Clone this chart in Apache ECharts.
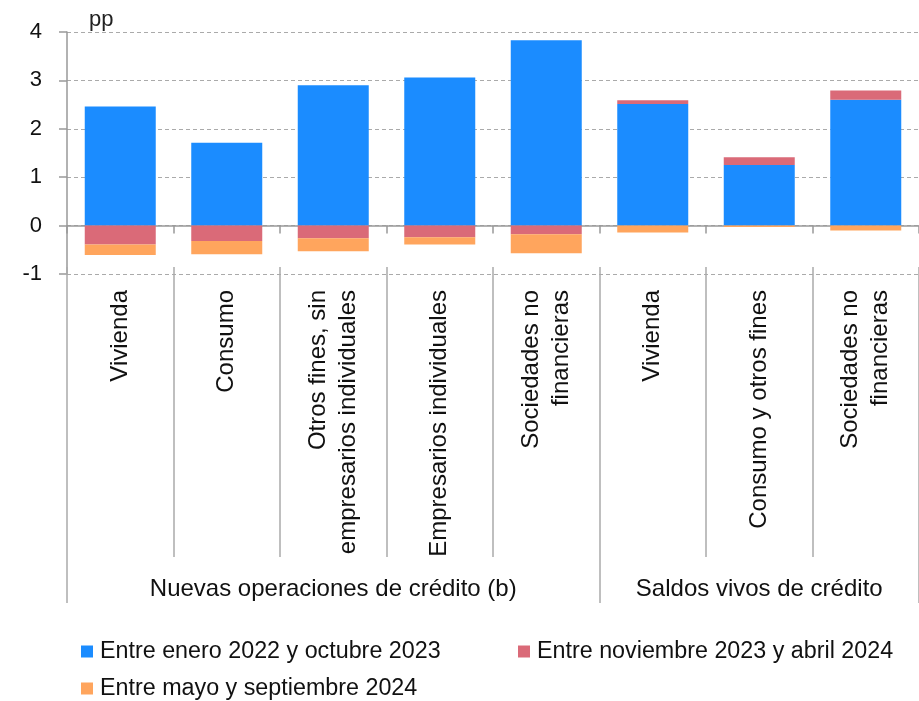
<!DOCTYPE html>
<html>
<head>
<meta charset="utf-8">
<script src="https://cdn.jsdelivr.net/npm/echarts@6/dist/echarts.min.js"></script>
<style>html,body{margin:0;padding:0;background:#fff}#c{width:919px;height:701px}</style>
</head>
<body>
<div id="c"></div>
<script>
var categories = ['Vivienda', 'Consumo', 'Otros fines, sin\nempresarios individuales', 'Empresarios individuales', 'Sociedades no\nfinancieras', 'Vivienda', 'Consumo y otros fines', 'Sociedades no\nfinancieras'];
var groupLabels = ['Nuevas operaciones de crédito (b)', 'Saldos vivos de crédito'];
var groupSizes = [5, 3];
var seriesNames = ['Entre enero 2022 y octubre 2023', 'Entre noviembre 2023 y abril 2024', 'Entre mayo y septiembre 2024'];
var enero22Oct23 = [2.46, 1.71, 2.90, 3.06, 3.83, 2.51, 1.25, 2.60];
var nov23Abr24 = [-0.39, -0.32, -0.26, -0.24, -0.18, 0.08, 0.16, 0.19];
var may24Sep24 = [-0.22, -0.27, -0.27, -0.15, -0.39, -0.14, -0.03, -0.10];
var yTicks = [-1, 0, 1, 2, 3, 4];

var colors = ['#1B8CFF', '#DA6A78', '#FFA55D'];
var FONT = "'Liberation Sans', Arial, sans-serif";

// group axis data: label at the centre category of each group
var groupAxisData = [];
var groupBoundaries = {};
var start = 0;
groupSizes.forEach(function (n, gi) {
  groupBoundaries[start] = true;
  for (var i = 0; i < n; i++) {
    groupAxisData.push(i === Math.floor(n / 2) ? groupLabels[gi] : '');
  }
  start += n;
});

var chart = echarts.init(document.getElementById('c'), null, {renderer: 'canvas'});
var allData = [enero22Oct23, nov23Abr24, may24Sep24];

chart.setOption({
  animation: false,
  textStyle: {fontFamily: FONT},
  title: {
    text: 'pp', left: 84, top: 4,
    textStyle: {fontFamily: FONT, fontSize: 22, fontWeight: 'normal', color: '#222'}
  },
  legend: [
    {data: [seriesNames[0]], left: 81, top: 640},
    {data: [seriesNames[1]], left: 518, top: 640},
    {data: [seriesNames[2]], left: 81, top: 677}
  ].map(function (l) {
    return Object.assign({
      icon: 'rect', itemWidth: 12, itemHeight: 12, padding: 0,
      textStyle: {fontFamily: FONT, fontSize: 23.3, color: '#111', padding: [0, 0, 0, 2]}
    }, l);
  }),
  grid: {left: 67, top: 32, right: 0, height: 242, containLabel: false},
  xAxis: [
    {
      type: 'category', data: categories, position: 'bottom',
      axisLine: {onZero: true, lineStyle: {color: '#999', width: 1.5}},
      axisTick: {show: true, interval: 0, length: 8, lineStyle: {color: '#999', width: 1.5}},
      axisLabel: {
        interval: 0, rotate: 90, margin: 16, fontSize: 24, lineHeight: 30,
        color: '#111', fontFamily: FONT
      },
      splitLine: {show: false}
    },
    {
      type: 'category', data: categories, position: 'bottom', offset: -7,
      axisLine: {show: false, onZero: false},
      axisTick: {show: true, interval: 0, length: 290, lineStyle: {color: '#aaa', width: 1.5}},
      axisLabel: {show: false},
      splitLine: {show: false}
    },
    {
      type: 'category', data: groupAxisData, position: 'bottom', offset: -7,
      axisLine: {show: false, onZero: false},
      axisTick: {
        show: true, length: 336, lineStyle: {color: '#aaa', width: 1.5},
        interval: function (index) { return !!groupBoundaries[index]; }
      },
      axisLabel: {
        interval: 0, margin: 310, fontSize: 24, color: '#111', fontFamily: FONT
      },
      splitLine: {show: false}
    }
  ],
  yAxis: {
    type: 'value', min: yTicks[0], max: yTicks[yTicks.length - 1], interval: 1,
    axisLine: {show: true, lineStyle: {color: '#999', width: 1.5}},
    axisTick: {show: true, length: 8, lineStyle: {color: '#999', width: 1.5}},
    axisLabel: {margin: 25, fontSize: 22, color: '#111', fontFamily: FONT},
    splitLine: {show: true, lineStyle: {color: '#aaa', width: 1.2, type: [4, 3]}}
  },
  series: seriesNames.map(function (name, i) {
    return {
      name: name, type: 'bar', stack: 'total', xAxisIndex: 0,
      barWidth: 71, data: allData[i],
      itemStyle: {color: colors[i]}
    };
  })
});
</script>
</body>
</html>
